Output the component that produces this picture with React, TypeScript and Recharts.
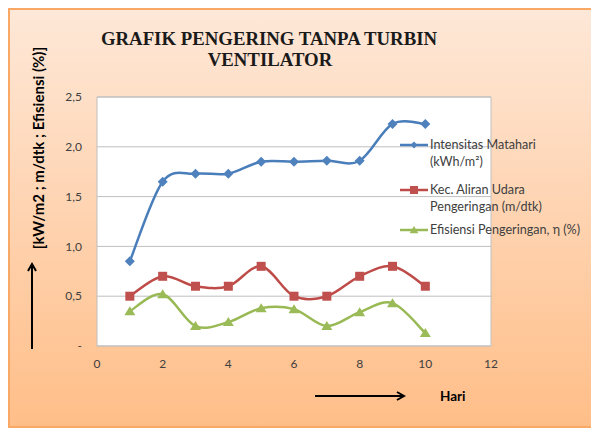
import React from 'react'
import { LineChart, Line, XAxis, YAxis, CartesianGrid, ReferenceArea } from 'recharts'

// hari 1..10
const days = [1, 2, 3, 4, 5, 6, 7, 8, 9, 10]
const intensitas = [0.85, 1.65, 1.73, 1.73, 1.85, 1.85, 1.86, 1.86, 2.23, 2.23]
const kecepatan = [0.5, 0.7, 0.6, 0.6, 0.8, 0.5, 0.5, 0.7, 0.8, 0.6]
const efisiensi = [0.35, 0.52, 0.2, 0.24, 0.38, 0.37, 0.2, 0.34, 0.43, 0.13]

const xTicks = [0, 2, 4, 6, 8, 10, 12]
const yTicks = [0, 0.5, 1, 1.5, 2, 2.5]

const series = [
  { key: 'intensitas', label: ['Intensitas Matahari', '(kWh/m²)'], line: '#4a7ebb', fill: '#4f81bd', shape: 'diamond' },
  { key: 'kecepatan', label: ['Kec. Aliran Udara', 'Pengeringan (m/dtk)'], line: '#be4b48', fill: '#c0504d', shape: 'square' },
  { key: 'efisiensi', label: ['Efisiensi Pengeringan, η (%)'], line: '#98b954', fill: '#9bbb59', shape: 'triangle' },
]

const data = days.map((d, i) => ({
  hari: d,
  intensitas: intensitas[i],
  kecepatan: kecepatan[i],
  efisiensi: efisiensi[i],
}))

const FONT = 'Lato, "Open Sans", sans-serif'
const SERIF = '"Liberation Serif", "DejaVu Serif", serif'

// excel-style smoothed line (catmull-rom like)
const excelCurve = (context: any) => {
  let pts: [number, number][] = []
  return {
    areaStart() {},
    areaEnd() {},
    lineStart() {
      pts = []
    },
    point(x: number, y: number) {
      pts.push([+x, +y])
    },
    lineEnd() {
      if (!pts.length) return
      context.moveTo(pts[0][0], pts[0][1])
      for (let i = 0; i < pts.length - 1; i++) {
        const p0 = pts[i - 1] || pts[i]
        const p1 = pts[i]
        const p2 = pts[i + 1]
        const p3 = pts[i + 2] || p2
        context.bezierCurveTo(
          p1[0] + (p2[0] - p0[0]) / 6,
          p1[1] + (p2[1] - p0[1]) / 6,
          p2[0] - (p3[0] - p1[0]) / 6,
          p2[1] - (p3[1] - p1[1]) / 6,
          p2[0],
          p2[1]
        )
      }
    },
  }
}

function Marker({ shape, cx, cy, fill, r }: { shape: string; cx: number; cy: number; fill: string; r: number }) {
  if (shape === 'diamond') {
    return <polygon points={`${cx},${cy - r} ${cx + r},${cy} ${cx},${cy + r} ${cx - r},${cy}`} fill={fill} />
  }
  if (shape === 'square') {
    return <rect x={cx - r} y={cy - r} width={r * 2} height={r * 2} fill={fill} />
  }
  return <polygon points={`${cx},${cy - r} ${cx + r * 1.1},${cy + r * 0.8} ${cx - r * 1.1},${cy + r * 0.8}`} fill={fill} />
}

const makeDot = (shape: string, fill: string, r: number) => (props: any) => {
  const { cx, cy, index } = props
  if (cx == null || cy == null) return <g key={index} />
  return <Marker key={index} shape={shape} cx={cx} cy={cy} fill={fill} r={r} />
}

const fmtY = (v: number) => (v === 0 ? '-' : v.toFixed(1).replace('.', ','))

export default function App() {
  return (
    <div
      style={{
        position: 'fixed',
        left: 8,
        top: 8,
        width: 590,
        height: 420,
        background: 'linear-gradient(#fee8d8, #ffbe88)',
        boxShadow: 'inset 0 0 0 2px #f9a866',
      }}
    >
      <div style={{ position: 'absolute', left: 0, top: 0 }}>
        <LineChart width={583} height={420} data={data} margin={{ top: 89, right: 100, left: 0, bottom: 52 }}>
          <CartesianGrid vertical={false} stroke="#bfbfbf" fill="#ffffff" />
          <ReferenceArea x1={0} x2={12} y1={0} y2={2.5} fill="none" stroke="#bfbfbf" />
          <XAxis
            dataKey="hari"
            type="number"
            domain={[0, 12]}
            ticks={xTicks}
            height={30}
            axisLine={false}
            tickLine={false}
            tickMargin={7}
            tick={{ fontSize: 12, fill: '#404040', fontFamily: FONT }}
          />
          <YAxis
            type="number"
            domain={[0, 2.5]}
            ticks={yTicks}
            width={89}
            axisLine={false}
            tickLine={false}
            tickMargin={9}
            tickFormatter={fmtY}
            tick={{ fontSize: 12, fill: '#404040', fontFamily: FONT }}
          />
          {series.map((s) => (
            <Line
              key={s.key}
              dataKey={s.key}
              type={excelCurve as any}
              stroke={s.line}
              strokeWidth={2.5}
              dot={makeDot(s.shape, s.fill, s.shape === 'diamond' ? 5 : s.shape === 'square' ? 4.5 : 5)}
              activeDot={false}
              isAnimationActive={false}
            />
          ))}
        </LineChart>
      </div>
      <svg width={583} height={420} style={{ position: 'absolute', left: 0, top: 0, pointerEvents: 'none' }}>
        <defs>
          <marker id="ah" markerWidth="10" markerHeight="10" refX="8" refY="5" orient="auto" markerUnits="userSpaceOnUse">
            <path d="M1,1 L8,5 L1,9" fill="none" stroke="#000" strokeWidth={2} />
          </marker>
        </defs>
        <text x={261} y={37} textAnchor="middle" style={{ fontFamily: SERIF, fontWeight: 'bold', fontSize: 18.8 }} fill="#1a1a1a">
          GRAFIK PENGERING TANPA TURBIN
        </text>
        <text x={262} y={58} textAnchor="middle" style={{ fontFamily: SERIF, fontWeight: 'bold', fontSize: 18.8 }} fill="#1a1a1a">
          VENTILATOR
        </text>
        <text
          x={30}
          y={140}
          transform="rotate(-90 30 140)"
          textAnchor="middle"
          dominantBaseline="central"
          style={{ fontFamily: FONT, fontWeight: 'bold', fontSize: 15 }}
          fill="#000"
        >
          [kW/m2 ; m/dtk ; Efisiensi (%)]
        </text>
        <line x1={24} y1={341} x2={24} y2={256} stroke="#000" strokeWidth={2} markerEnd="url(#ah)" />
        <line x1={307} y1={388} x2={396} y2={388} stroke="#000" strokeWidth={2} markerEnd="url(#ah)" />
        <text x={432} y={393} style={{ fontFamily: FONT, fontWeight: 'bold', fontSize: 13.5 }} fill="#000">
          Hari
        </text>
        {series.map((s, i) => {
          const y = [137, 182, 222][i]
          return (
            <g key={s.key}>
              <line x1={392} y1={y} x2={420} y2={y} stroke={s.line} strokeWidth={2.5} />
              <Marker shape={s.shape} cx={406} cy={y} fill={s.fill} r={s.shape === 'diamond' ? 3.5 : 4} />
              {s.label.map((t, j) => (
                <text key={j} x={422} y={y + 4 + j * 17} style={{ fontFamily: FONT, fontSize: 12.6 }} fill="#404040">
                  {t}
                </text>
              ))}
            </g>
          )
        })}
      </svg>
    </div>
  )
}
